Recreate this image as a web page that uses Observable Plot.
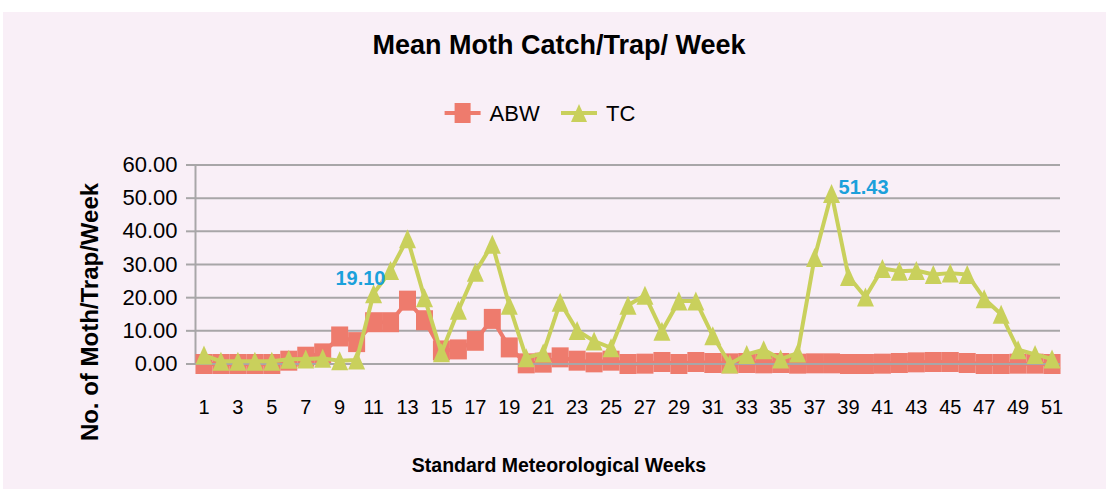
<!DOCTYPE html>
<html>
<head>
<meta charset="utf-8">
<script src="https://cdn.jsdelivr.net/npm/d3@7"></script>
<script src="https://cdn.jsdelivr.net/npm/@observablehq/plot@0.6"></script>
<style>
  html, body { margin: 0; padding: 0; background: #ffffff; }
  body { width: 1106px; height: 489px; position: relative; overflow: hidden; font-family: "Liberation Sans", Arial, sans-serif; }
  #panel { position: absolute; left: 3px; top: 12px; width: 1103px; height: 477px; background: #F9EFF7; }
  .abs { position: absolute; white-space: nowrap; color: #000; }
  #title { left: 556px; top: 33px; transform: translate(-50%, -50%); font-size: 27px; font-weight: bold; }
  #ytitle { left: 87px; top: 300px; transform: translate(-50%, -50%) rotate(-90deg); font-size: 24px; font-weight: bold; }
  #xtitle { left: 556px; top: 453px; transform: translate(-50%, -50%); font-size: 19.5px; font-weight: bold; }
  #legend { left: 437px; top: 87px; }
  #chart { position: absolute; left: 0px; top: 118px; }
</style>
</head>
<body>
<div id="panel">
  <div id="title" class="abs">Mean Moth Catch/Trap/ Week</div>
  <div id="legend" class="abs"></div>
  <div id="ytitle" class="abs">No. of Moth/Trap/Week</div>
  <div id="xtitle" class="abs">Standard Meteorological Weeks</div>
  <div id="chart"></div>
</div>
<script>
// ---- data ----
const weeks = d3.range(1, 52);
const abw = [0, 0, 0, 0, 0, 1.0, 2.2, 3.2, 8.3, 6.6,
             12.6, 12.6, 19.10, 13.2, 4.1, 4.4, 7.0, 13.6, 5.0, 0.2,
             0.4, 2.0, 1.0, 0.5, 1.0, 0, 0.1, 0.6, 0, 0.6,
             0.3, 0.2, 0.3, 0.2, 0.3, 0.1, 0.2, 0.2, 0, 0,
             0.1, 0.3, 0.5, 0.6, 0.6, 0.3, 0, 0, 0.1, 0.1, 0];
const tc = [2.7, 0.8, 0.8, 0.8, 0.8, 1.4, 1.5, 1.7, 1.0, 1.2,
            21.2, 28.2, 37.8, 20.0, 3.4, 16.2, 27.7, 36.1, 17.7, 1.9,
            3.3, 18.6, 10.1, 6.9, 4.9, 17.7, 20.7, 9.9, 19.0, 19.0,
            8.5, 0.0, 2.9, 4.3, 1.5, 3.3, 32.1, 51.43, 26.4, 20.2,
            28.8, 28.0, 28.2, 27.0, 27.4, 27.0, 19.7, 15.0, 4.3, 2.9, 1.5];
const seriesNames = ["ABW", "TC"];
const xTickLabels = weeks.filter(w => w % 2 === 1);
const yTicks = [0, 10, 20, 30, 40, 50, 60];
const labelWeeks = [13, 38];
const labelSeries = ["ABW", "TC"];

// ---- styles ----
const RED = "#EE7B6D";
const GREEN = "#C9D05C";
const BLUE = "#1BA0DB";
const GRID = "#A8A6A8";

const abwRows = weeks.map((w, i) => ({week: w, value: abw[i]}));
const tcRows = weeks.map((w, i) => ({week: w, value: tc[i]}));
const valuesBySeries = {ABW: abw, TC: tc};
const labelRows = labelWeeks.map((w, i) => ({week: w, series: labelSeries[i], value: valuesBySeries[labelSeries[i]][w - 1]}));

const rectSymbol = {draw(ctx) { const w = 17, h = 20; ctx.rect(-w / 2, -h / 2, w, h); }};
const triSymbol = {draw(ctx) { const w = 17, h = 19; ctx.moveTo(0, -h / 2); ctx.lineTo(w / 2, h / 2); ctx.lineTo(-w / 2, h / 2); ctx.closePath(); }};

const chart = Plot.plot({
  width: 1103,
  height: 359,
  marginLeft: 192,
  marginRight: 46,
  marginTop: 34.5,
  marginBottom: 125.5,
  style: {background: "transparent", fontFamily: "Liberation Sans, Arial, sans-serif", color: "#000"},
  x: {type: "point", domain: weeks, padding: 0.5},
  y: {domain: [0, 60]},
  marks: [
    Plot.gridY(yTicks, {stroke: GRID, strokeOpacity: 1, strokeWidth: 2}),
    Plot.frame({anchor: "left", stroke: GRID, strokeWidth: 2, strokeOpacity: 1}),
    Plot.axisY({ticks: yTicks, tickFormat: d3.format(".2f"), tickSize: 9, tickPadding: 9, fontSize: 22, stroke: GRID, strokeWidth: 2, strokeOpacity: 1, label: null}),
    Plot.axisX({ticks: xTickLabels, tickSize: 0, tickPadding: 36, fontSize: 20, label: null}),
    Plot.line(abwRows, {x: "week", y: "value", stroke: RED, strokeWidth: 4}),
    Plot.dot(abwRows, {x: "week", y: "value", symbol: rectSymbol, r: 10, fill: RED, stroke: "none"}),
    Plot.ruleY([0], {stroke: GRID, strokeWidth: 2}),
    Plot.line(tcRows, {x: "week", y: "value", stroke: GREEN, strokeWidth: 4}),
    Plot.dot(tcRows, {x: "week", y: "value", symbol: triSymbol, r: 10, fill: GREEN, stroke: "none"}),
    Plot.text(labelRows.filter(d => d.series === "ABW"), {x: "week", y: "value", text: d => d.value.toFixed(2), textAnchor: "end", dx: -22, dy: -22, fill: BLUE, fontWeight: "bold", fontSize: 20}),
    Plot.text(labelRows.filter(d => d.series === "TC"), {x: "week", y: "value", text: d => d.value.toFixed(2), textAnchor: "start", dx: 7, dy: -6, fill: BLUE, fontWeight: "bold", fontSize: 20})
  ]
});
document.getElementById("chart").appendChild(chart);

// ---- legend ----
const legendSvg = d3.create("svg").attr("width", 220).attr("height", 30)
  .style("font-family", "Liberation Sans, Arial, sans-serif");
const items = [
  {name: seriesNames[0], color: RED, sym: "rect", x0: 4.6},
  {name: seriesNames[1], color: GREEN, sym: "tri", x0: 121}
];
for (const it of items) {
  const cy = 14;
  legendSvg.append("line").attr("x1", it.x0).attr("x2", it.x0 + 36).attr("y1", cy).attr("y2", cy)
    .attr("stroke", it.color).attr("stroke-width", 4);
  const cx = it.x0 + 18;
  if (it.sym === "rect") {
    legendSvg.append("rect").attr("x", cx - 8).attr("y", cy - 10).attr("width", 16).attr("height", 20).attr("fill", it.color);
  } else {
    legendSvg.append("path").attr("d", `M${cx},${cy - 9}L${cx + 8},${cy + 9}L${cx - 8},${cy + 9}Z`).attr("fill", it.color);
  }
  legendSvg.append("text").attr("x", it.x0 + 45).attr("y", cy + 8).attr("font-size", 22).attr("fill", "#000").text(it.name);
}
document.getElementById("legend").appendChild(legendSvg.node());
</script>
</body>
</html>
